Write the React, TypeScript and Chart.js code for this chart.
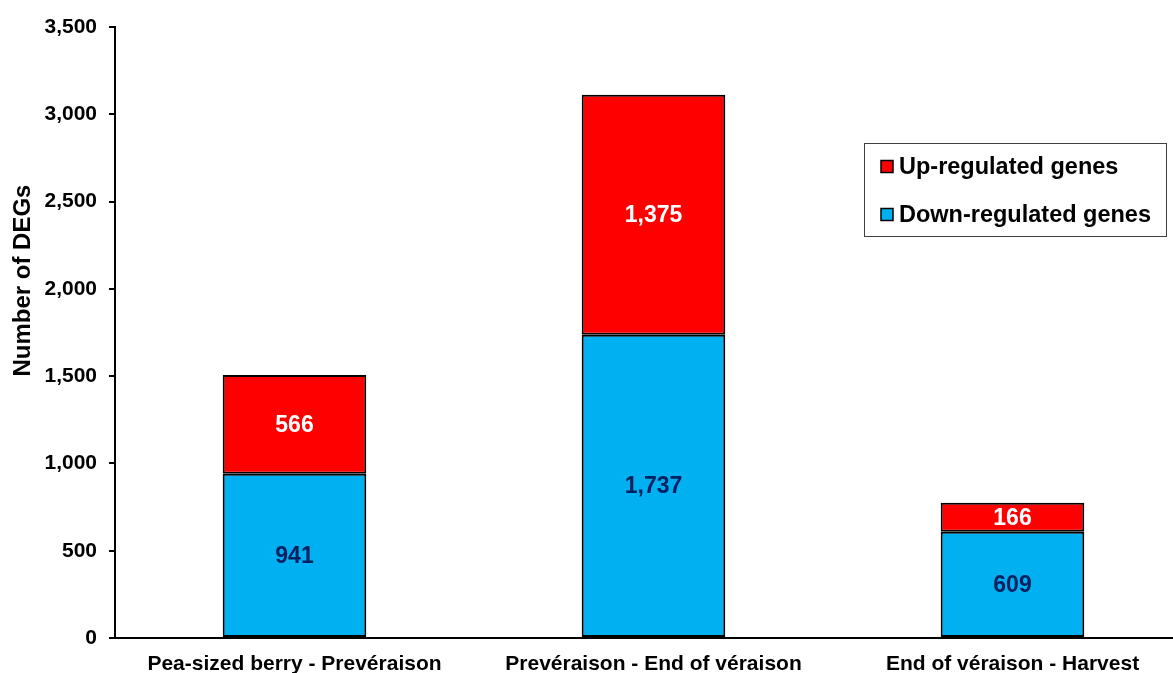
import React, { useEffect, useRef } from "react";
import { Chart, registerables } from "chart.js";

Chart.register(...registerables);

// Stage comparisons along the x axis
const categories = [
  "Pea-sized berry - Prevéraison",
  "Prevéraison - End of véraison",
  "End of véraison - Harvest",
];
// Differentially expressed gene counts per comparison
const downRegulated = [941, 1737, 609];
const upRegulated = [566, 1375, 166];
// Y axis ticks
const yTicks = [0, 500, 1000, 1500, 2000, 2500, 3000, 3500];

const FONT = "'Liberation Sans', Arial, Helvetica, sans-serif";
const BLUE = "#00B0F0";
const RED = "#FF0000";
const NAVY = "#002060";

const fmt = (v: number) => v.toLocaleString("en-US");

// Value labels centred in each stacked segment
const segmentLabels = {
  id: "segmentLabels",
  afterDatasetsDraw(chart: any) {
    const ctx = chart.ctx;
    ctx.save();
    ctx.font = `bold 23px ${FONT}`;
    ctx.textAlign = "center";
    ctx.textBaseline = "middle";
    chart.data.datasets.forEach((ds: any, di: number) => {
      const meta = chart.getDatasetMeta(di);
      ctx.fillStyle = ds.labelColor;
      meta.data.forEach((bar: any, i: number) => {
        const mid = (bar.y + bar.base) / 2;
        ctx.fillText(fmt(ds.data[i]), bar.x, mid + 1);
      });
    });
    ctx.restore();
  },
};

// Boxed legend in the upper right and rotated y-axis title
const boxedLegend = {
  id: "boxedLegend",
  afterDraw(chart: any) {
    const ctx = chart.ctx;
    const area = chart.chartArea;
    ctx.save();

    // y-axis title
    ctx.save();
    ctx.translate(23, area.top + (area.bottom - area.top) * 0.415);
    ctx.rotate(-Math.PI / 2);
    ctx.font = `bold 24px ${FONT}`;
    ctx.fillStyle = "#000";
    ctx.textAlign = "center";
    ctx.textBaseline = "middle";
    ctx.fillText("Number of DEGs", 0, 0);
    ctx.restore();

    // legend box
    const bx = 864.5, by = 143.5, bw = 302, bh = 93;
    ctx.fillStyle = "#fff";
    ctx.fillRect(bx, by, bw, bh);
    ctx.strokeStyle = "#404040";
    ctx.lineWidth = 1;
    ctx.strokeRect(bx, by, bw, bh);

    const items = [chart.data.datasets[1], chart.data.datasets[0]];
    ctx.font = `bold 23.5px ${FONT}`;
    ctx.textBaseline = "middle";
    ctx.textAlign = "left";
    items.forEach((ds: any, i: number) => {
      const cy = by + 23 + i * 48;
      ctx.fillStyle = ds.backgroundColor;
      ctx.fillRect(881, cy - 6, 12, 12);
      ctx.strokeStyle = "#000";
      ctx.lineWidth = 1.5;
      ctx.strokeRect(881, cy - 6, 12, 12);
      ctx.fillStyle = "#000";
      ctx.fillText(ds.label, 899, cy + 1);
    });
    ctx.restore();
  },
};

export default function App() {
  const ref = useRef<HTMLCanvasElement | null>(null);

  useEffect(() => {
    if (!ref.current) return;
    const chart = new Chart(ref.current, {
      type: "bar",
      data: {
        labels: categories,
        datasets: [
          {
            label: "Down-regulated genes",
            data: downRegulated,
            backgroundColor: BLUE,
            borderColor: "#000",
            borderWidth: 2,
            borderSkipped: false,
            labelColor: NAVY,
          } as any,
          {
            label: "Up-regulated genes",
            data: upRegulated,
            backgroundColor: RED,
            borderColor: "#000",
            borderWidth: 2,
            borderSkipped: false,
            labelColor: "#fff",
          } as any,
        ],
      },
      options: {
        animation: false,
        responsive: true,
        maintainAspectRatio: false,
        layout: { padding: { top: 27, right: 0, left: 0, bottom: 0 } },
        datasets: {
          bar: { categoryPercentage: 1, barPercentage: 0.4 },
        },
        plugins: {
          legend: { display: false },
          tooltip: { enabled: false },
        },
        scales: {
          x: {
            stacked: true,
            grid: { display: false, drawTicks: false },
            border: { display: true, color: "#000", width: 2 },
            ticks: {
              color: "#000",
              font: { family: FONT, size: 21, weight: "bold" },
              padding: 14,
              maxRotation: 0,
              autoSkip: false,
            },
            afterFit: (s: any) => {
              s.height = 35;
            },
          },
          y: {
            stacked: true,
            min: 0,
            max: 3500,
            afterBuildTicks: (s: any) => {
              s.ticks = yTicks.map((v) => ({ value: v }));
            },
            grid: {
              drawOnChartArea: false,
              drawTicks: true,
              tickLength: 6,
              color: "#000",
              lineWidth: 2,
            },
            border: { display: true, color: "#000", width: 2 },
            ticks: {
              color: "#000",
              font: { family: FONT, size: 21, weight: "bold" },
              padding: 12,
              callback: (v: any) => fmt(Number(v)),
            },
            afterFit: (s: any) => {
              s.width = 115;
            },
          },
        },
      },
      plugins: [segmentLabels, boxedLegend],
    });
    return () => chart.destroy();
  }, []);

  return (
    <div
      style={{
        position: "fixed",
        left: 0,
        top: 0,
        width: 1173,
        height: 673,
        overflow: "hidden",
        background: "#fff",
      }}
    >
      <div style={{ position: "relative", width: 1192, height: 673 }}>
        <canvas ref={ref} />
      </div>
    </div>
  );
}
